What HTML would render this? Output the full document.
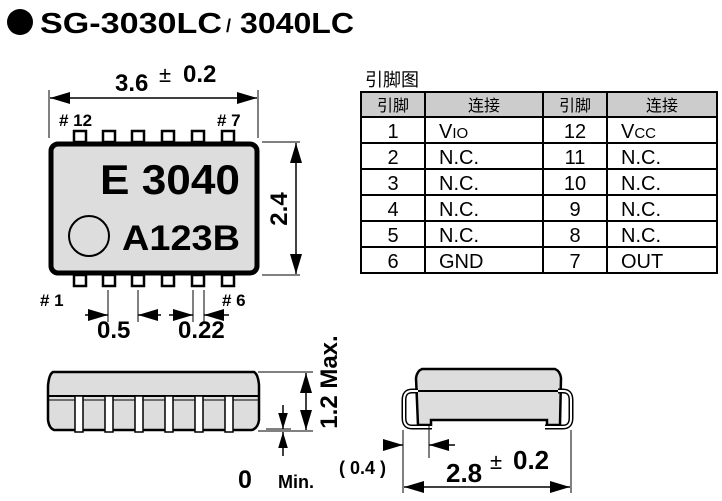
<!DOCTYPE html>
<html><head><meta charset="utf-8"><style>
html,body{margin:0;padding:0;background:#fff;}
svg{display:block;}
text{font-family:"Liberation Sans",Arial,sans-serif;}
.b{font-weight:bold;}
.cjk{font-family:"Liberation Sans","Noto Sans CJK SC",sans-serif;}
</style></head><body>
<svg width="722" height="501" viewBox="0 0 722 501" xmlns="http://www.w3.org/2000/svg">
<defs>
<marker id="ar" viewBox="0 0 20 12" refX="20" refY="6" markerWidth="20" markerHeight="12" orient="auto-start-reverse" markerUnits="userSpaceOnUse"><path d="M0,0 L20,6 L0,12 z" fill="#000"/></marker>
<marker id="as" viewBox="0 0 20 12" refX="20" refY="6" markerWidth="16" markerHeight="10" orient="auto-start-reverse" markerUnits="userSpaceOnUse"><path d="M0,0 L20,6 L0,12 z" fill="#000"/></marker>
</defs>
<!-- title -->
<circle cx="20" cy="22" r="13" fill="#000"/>
<text x="40" y="33" class="b" font-size="29" textLength="182" lengthAdjust="spacingAndGlyphs">SG-3030LC</text>
<text x="226" y="32" class="b" font-size="18">/</text>
<text x="240" y="33" class="b" font-size="29" textLength="114" lengthAdjust="spacingAndGlyphs">3040LC</text>

<!-- top view -->
<g fill="#fff" stroke="#000" stroke-width="2.5">
<rect x="74" y="131" width="12" height="11"/><rect x="103" y="131" width="12" height="11"/><rect x="132" y="131" width="12" height="11"/><rect x="162" y="131" width="12" height="11"/><rect x="192" y="131" width="12" height="11"/><rect x="222" y="131" width="12" height="11"/>
<rect x="74" y="275" width="12" height="11"/><rect x="103" y="275" width="12" height="11"/><rect x="132" y="275" width="12" height="11"/><rect x="162" y="275" width="12" height="11"/><rect x="192" y="275" width="12" height="11"/><rect x="222" y="275" width="12" height="11"/>
</g>
<rect x="51" y="144" width="206" height="129" rx="7" fill="#ddd" stroke="#000" stroke-width="5"/>
<text x="240" y="194" class="b" font-size="42" text-anchor="end" textLength="140" lengthAdjust="spacingAndGlyphs">E 3040</text>
<circle cx="89" cy="236" r="20" fill="none" stroke="#000" stroke-width="2"/>
<text x="240" y="250" class="b" font-size="35" text-anchor="end" textLength="118" lengthAdjust="spacingAndGlyphs">A123B</text>
<!-- dims top -->
<line x1="49" y1="90" x2="49" y2="138" stroke="#000"/>
<line x1="258" y1="90" x2="258" y2="138" stroke="#000"/>
<line x1="50" y1="98" x2="257" y2="98" stroke="#000" stroke-width="1.5" marker-start="url(#ar)" marker-end="url(#ar)"/>
<text x="115" y="91" class="b" font-size="24">3.6</text>
<text x="159" y="82" font-size="22">±</text>
<text x="183" y="82" class="b" font-size="24">0.2</text>
<text x="59" y="126" class="b" font-size="17"># 12</text>
<text x="217" y="126" class="b" font-size="17"># 7</text>
<text x="40" y="306" class="b" font-size="17"># 1</text>
<text x="222" y="306" class="b" font-size="17"># 6</text>
<!-- right dim -->
<line x1="262" y1="142" x2="300" y2="142" stroke="#000"/>
<line x1="262" y1="275" x2="300" y2="275" stroke="#000"/>
<line x1="296" y1="143" x2="296" y2="274" stroke="#000" stroke-width="1.5" marker-start="url(#ar)" marker-end="url(#ar)"/>
<text transform="translate(287,209) rotate(-90)" class="b" font-size="24" text-anchor="middle">2.4</text>
<!-- bottom pitch dims -->
<line x1="108" y1="290" x2="108" y2="322" stroke="#000"/>
<line x1="138" y1="290" x2="138" y2="322" stroke="#000"/>
<line x1="85" y1="315" x2="108" y2="315" stroke="#000" stroke-width="1.5" marker-end="url(#ar)"/>
<line x1="161" y1="315" x2="138" y2="315" stroke="#000" stroke-width="1.5" marker-end="url(#ar)"/>
<line x1="193" y1="290" x2="193" y2="322" stroke="#000"/>
<line x1="204" y1="290" x2="204" y2="322" stroke="#000"/>
<line x1="169" y1="315" x2="193" y2="315" stroke="#000" stroke-width="1.5" marker-end="url(#ar)"/>
<line x1="229" y1="315" x2="204" y2="315" stroke="#000" stroke-width="1.5" marker-end="url(#ar)"/>
<text x="97" y="338" class="b" font-size="24">0.5</text>
<text x="178" y="338" class="b" font-size="24">0.22</text>

<!-- side view left -->
<path d="M53,372 L254,372 Q258,374 259,385 L259,420 Q258,428 252,430 L54,430 Q49,428 48,420 L48,386 Q49,374 53,372 Z" fill="#ddd" stroke="#000" stroke-width="2.5"/>
<line x1="49" y1="396" x2="258" y2="396" stroke="#000" stroke-width="2"/>
<line x1="49" y1="400" x2="258" y2="400" stroke="#000" stroke-width="1"/>
<g fill="#fff" stroke="#000" stroke-width="1.5">
<rect x="75" y="396" width="8" height="36"/><rect x="105" y="396" width="8" height="36"/><rect x="135" y="396" width="8" height="36"/><rect x="165" y="396" width="8" height="36"/><rect x="195" y="396" width="8" height="36"/><rect x="225" y="396" width="8" height="36"/>
</g>
<line x1="258" y1="372" x2="313" y2="372" stroke="#000"/>
<line x1="258" y1="431" x2="313" y2="431" stroke="#000"/>
<line x1="306" y1="373" x2="306" y2="430" stroke="#000" stroke-width="1.5" marker-start="url(#ar)" marker-end="url(#ar)"/>
<text transform="translate(337,382) rotate(-90)" class="b" font-size="24" text-anchor="middle">1.2 Max.</text>
<line x1="266" y1="429" x2="291" y2="429" stroke="#000"/>
<line x1="283" y1="405" x2="283" y2="429" stroke="#000" stroke-width="1.5" marker-end="url(#as)"/>
<line x1="283" y1="456" x2="283" y2="432" stroke="#000" stroke-width="1.5" marker-end="url(#as)"/>
<text x="238" y="488" class="b" font-size="25">0</text>
<text x="278" y="488" class="b" font-size="18">Min.</text>

<!-- side view right -->
<path d="M422,369 L555,369 Q560,371 561,378 L560,425 L547,425 L547,420 L431,420 L431,425 L418,425 L416,378 Q417,371 422,369 Z" fill="#ddd" stroke="#000" stroke-width="2.5"/>
<line x1="416" y1="391" x2="561" y2="391" stroke="#000" stroke-width="2"/>
<path d="M432,427 L412,427 Q404,427 404,418 L404,400 Q404,391 412,391 L418,391" fill="none" stroke="#000" stroke-width="5"/>
<path d="M432,427 L412,427 Q404,427 404,418 L404,400 Q404,391 412,391 L418,391" fill="none" stroke="#fff" stroke-width="2"/>
<path d="M545,427 L563,427 Q571,427 571,418 L571,400 Q571,391 563,391 L558,391" fill="none" stroke="#000" stroke-width="5"/>
<path d="M545,427 L563,427 Q571,427 571,418 L571,400 Q571,391 563,391 L558,391" fill="none" stroke="#fff" stroke-width="2"/>
<line x1="403" y1="430" x2="403" y2="493" stroke="#000"/>
<line x1="571" y1="430" x2="571" y2="493" stroke="#000"/>
<line x1="429" y1="425" x2="429" y2="458" stroke="#000"/>
<line x1="384" y1="445" x2="403" y2="445" stroke="#000" stroke-width="1.5" marker-end="url(#ar)"/>
<line x1="455" y1="445" x2="429" y2="445" stroke="#000" stroke-width="1.5" marker-end="url(#ar)"/>
<line x1="404" y1="487" x2="570" y2="487" stroke="#000" stroke-width="1.5" marker-start="url(#ar)" marker-end="url(#ar)"/>
<text x="339" y="474" class="b" font-size="18">( 0.4 )</text>
<text x="446" y="482" class="b" font-size="26">2.8</text>
<text x="490" y="469" font-size="22">±</text>
<text x="513" y="469" class="b" font-size="26">0.2</text>

<!-- table -->
<text x="365" y="86" class="cjk" font-size="18">引脚图</text>
<rect x="361" y="92" width="356" height="25" fill="#ccc"/>
<g stroke="#000" stroke-width="2" fill="none">
<rect x="361" y="92" width="356" height="181"/>
<line x1="361" y1="117" x2="717" y2="117"/>
<line x1="361" y1="143" x2="717" y2="143"/>
<line x1="361" y1="169" x2="717" y2="169"/>
<line x1="361" y1="195" x2="717" y2="195"/>
<line x1="361" y1="221" x2="717" y2="221"/>
<line x1="361" y1="247" x2="717" y2="247"/>
<line x1="425" y1="92" x2="425" y2="273"/>
<line x1="543" y1="92" x2="543" y2="273"/>
<line x1="607" y1="92" x2="607" y2="273"/>
</g>
<g class="cjk" font-size="16" text-anchor="middle">
<text x="393" y="111">引脚</text><text x="484" y="111">连接</text><text x="575" y="111">引脚</text><text x="662" y="111">连接</text>
</g>
<g font-size="20" text-anchor="middle">
<text x="393" y="138">1</text><text x="393" y="164">2</text><text x="393" y="190">3</text><text x="393" y="216">4</text><text x="393" y="242">5</text><text x="393" y="268">6</text>
<text x="575" y="138">12</text><text x="575" y="164">11</text><text x="575" y="190">10</text><text x="575" y="216">9</text><text x="575" y="242">8</text><text x="575" y="268">7</text>
</g>
<g font-size="20">
<text x="439" y="138">V<tspan font-size="15">IO</tspan></text>
<text x="439" y="164">N.C.</text><text x="439" y="190">N.C.</text><text x="439" y="216">N.C.</text><text x="439" y="242">N.C.</text><text x="439" y="268">GND</text>
<text x="621" y="138">V<tspan font-size="15">CC</tspan></text>
<text x="621" y="164">N.C.</text><text x="621" y="190">N.C.</text><text x="621" y="216">N.C.</text><text x="621" y="242">N.C.</text><text x="621" y="268">OUT</text>
</g>
</svg>
</body></html>
